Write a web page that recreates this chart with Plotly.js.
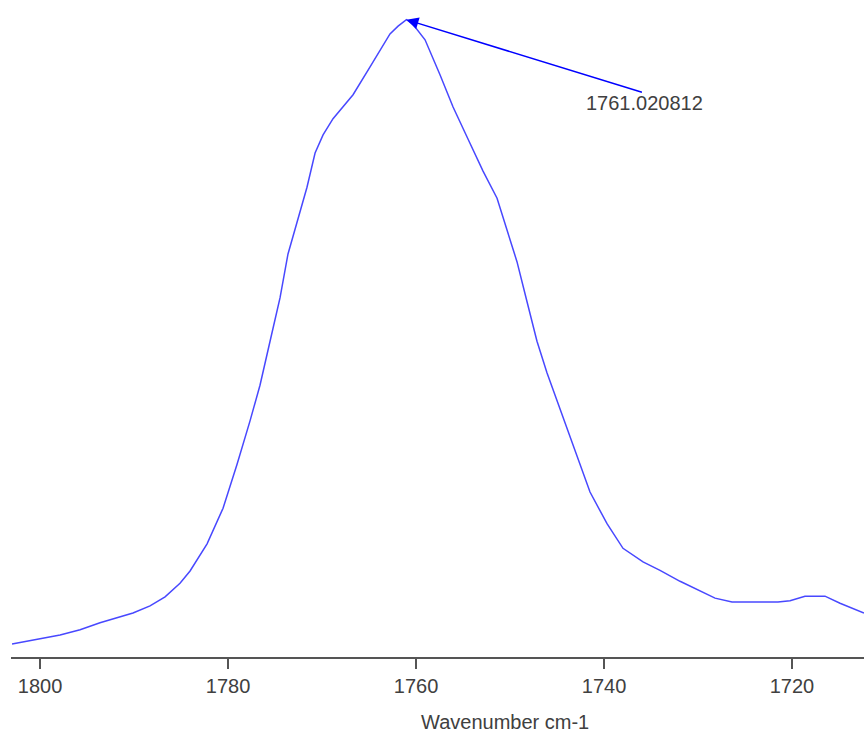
<!DOCTYPE html>
<html>
<head>
<meta charset="utf-8">
<script src="https://cdn.plot.ly/plotly-3.0.1.min.js"></script>
<style>html,body{margin:0;padding:0;background:#fff;}#chart{width:867px;height:742px;}</style>
</head>
<body>
<div id="chart"></div>
<script>
// Wavenumber (cm-1) and absorbance
const wavenumber = [1802.98,1800.00,1797.87,1795.74,1793.62,1790.11,1788.30,1786.70,1785.11,1784.04,
  1782.23,1780.53,1779.04,1777.66,1776.60,1775.53,1774.47,1773.62,1772.66,1771.60,
  1770.74,1769.89,1768.83,1766.70,1764.89,1762.77,1761.91,1761.02,1760.32,1759.04,
  1757.45,1756.06,1754.26,1752.87,1751.38,1750.32,1749.26,1748.19,1747.13,1746.06,
  1745.00,1743.94,1742.87,1741.49,1739.68,1737.98,1735.85,1734.04,1731.91,1729.79,
  1728.19,1726.38,1723.94,1721.49,1720.21,1718.62,1716.49,1714.89,1712.34];
const absorbance = [0.020,0.028,0.034,0.042,0.053,0.068,0.079,0.093,0.114,0.133,
  0.175,0.230,0.298,0.365,0.420,0.488,0.555,0.623,0.672,0.726,
  0.779,0.807,0.832,0.869,0.912,0.963,0.975,0.985,0.978,0.954,
  0.900,0.850,0.794,0.751,0.709,0.660,0.611,0.549,0.488,0.439,
  0.396,0.352,0.311,0.255,0.206,0.168,0.147,0.134,0.117,0.102,
  0.091,0.085,0.085,0.085,0.087,0.094,0.094,0.083,0.068];
const tickValues = [1800,1780,1760,1740,1720];
const tickLabels = ['1800','1780','1760','1740','1720'];
const peakX = 1761.020812;
const peakY = 0.985;
const peakLabel = '1761.020812';
const xTitle = 'Wavenumber cm-1';

const trace = {
  x: wavenumber, y: absorbance, type: 'scatter', mode: 'lines',
  line: {color: '#4848ff', width: 1.5, shape: 'linear'},
  hoverinfo: 'skip'
};

const layout = {
  width: 867, height: 742,
  margin: {l: 11, r: 3, t: 10, b: 85, pad: 0},
  paper_bgcolor: '#ffffff', plot_bgcolor: '#ffffff',
  showlegend: false,
  font: {family: '"Liberation Sans", Arial, sans-serif', size: 20, color: '#404040'},
  xaxis: {
    range: [1803.09, 1712.34],
    tickmode: 'array', tickvals: tickValues, ticktext: tickLabels,
    ticks: 'outside', ticklen: 10, tickwidth: 2, tickcolor: '#555555',
    showline: true, linecolor: '#555555', linewidth: 2,
    showgrid: false, zeroline: false,
    tickfont: {size: 20, color: '#404040'},
    automargin: false
  },
  yaxis: {
    range: [0, 1], visible: false, showgrid: false, zeroline: false
  },
  annotations: [
    {
      x: peakX, y: peakY, xref: 'x', yref: 'y', text: '',
      showarrow: true, ax: 237, ay: 73, axref: 'pixel', ayref: 'pixel',
      arrowhead: 2, arrowsize: 1.6, arrowwidth: 1.5, arrowcolor: '#0000ff', standoff: 0
    },
    {
      x: peakX, y: peakY, xref: 'x', yref: 'y', text: peakLabel,
      showarrow: false, xshift: 238, yshift: -83,
      font: {size: 20, color: '#404040'}
    },
    {
      x: 0.579, y: -0.1005, xref: 'paper', yref: 'paper', text: xTitle,
      showarrow: false, xanchor: 'center', yanchor: 'middle',
      font: {size: 20, color: '#404040'}
    }
  ]
};

Plotly.newPlot('chart', [trace], layout, {displayModeBar: false, staticPlot: true});
</script>
</body>
</html>
